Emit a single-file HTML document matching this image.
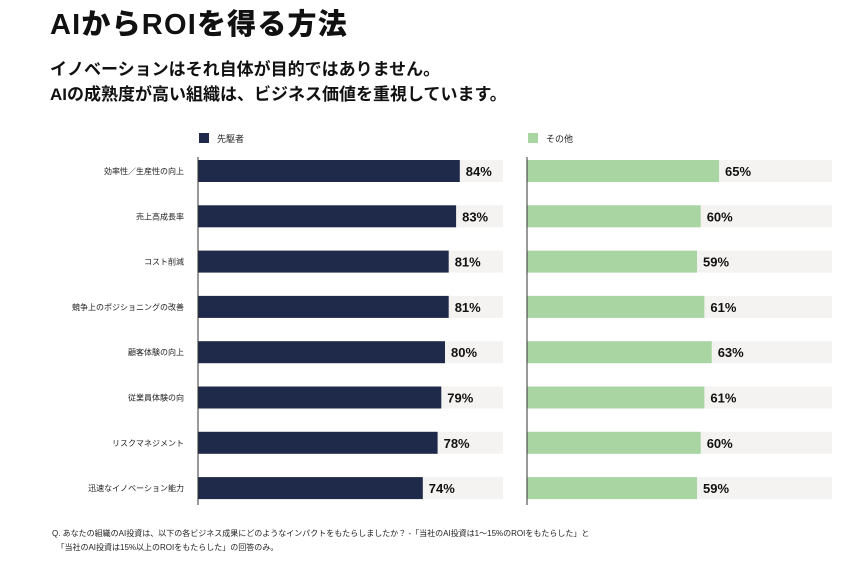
<!DOCTYPE html>
<html><head><meta charset="utf-8"><style>
body{margin:0;width:856px;height:569px;background:#fff;font-family:"Liberation Sans","Noto Sans CJK JP",sans-serif;overflow:hidden;position:relative;color:#111}
.t{position:absolute;white-space:nowrap}
</style></head><body>
<div class="t" style="left:50px;top:1px;font-size:29px;font-weight:900;letter-spacing:1.2px">AIからROIを得る方法</div>
<div class="t" style="left:50px;top:55px;font-size:17px;font-weight:700">イノベーションはそれ自体が目的ではありません。</div>
<div class="t" style="left:50px;top:80px;font-size:17px;font-weight:700">AIの成熟度が高い組織は、ビジネス価値を重視しています。</div>
<svg id="c" width="856" height="569" style="position:absolute;left:0;top:0"></svg>
<div class="t" style="left:52px;top:527px;font-size:8px;line-height:14px;color:#222">Q. あなたの組織のAI投資は、以下の各ビジネス成果にどのようなインパクトをもたらしましたか？ -「当社のAI投資は1〜15%のROIをもたらした」と<br>&nbsp;&nbsp;「当社のAI投資は15%以上のROIをもたらした」の回答のみ。</div>
<script>
const categories=["効率性／生産性の向上","売上高成長率","コスト削減","競争上のポジショニングの改善","顧客体験の向上","従業員体験の向","リスクマネジメント","迅速なイノベーション能力"];
const leaders=[84,83,81,81,80,79,78,74];
const others=[65,60,59,61,63,61,60,59];
const seriesNames=["先駆者","その他"];
const svg=document.getElementById('c');const NS="http://www.w3.org/2000/svg";
function mk(t,a,txt){const e=document.createElementNS(NS,t);for(const k in a)e.setAttribute(k,a[k]);if(txt!=null)e.textContent=txt;svg.appendChild(e);return e;}
function y(i){return 171+i*45.3;}
// scale: end = origin + v*s (axis clipped at x0)
const panels=[{x0:198,org:149,s:3.7,tw:305,col:"#1f2a4a",vals:leaders,lx:199},{x0:527,org:480.5,s:3.67,tw:305,col:"#a8d5a2",vals:others,lx:528}];
panels.forEach((p,pi)=>{
 let r=mk('rect',{x:p.lx,y:133,width:10,height:10,fill:p.col});
 
 let lt=mk('text',{x:p.lx+18,y:142,'font-size':9,fill:'#222'},seriesNames[pi]);
 
 p.vals.forEach((v,i)=>{
  let tr=mk('rect',{x:p.x0,y:y(i)-11,width:p.tw,height:22,fill:'#f4f3f1'});
  
  const end=Math.max(p.x0,p.org+v*p.s);
  let b=mk('rect',{x:p.x0,y:y(i)-11,width:end-p.x0,height:22,fill:p.col});
  
  let t=mk('text',{x:end+6,y:y(i)+5,'font-size':13,'font-weight':700,fill:'#111'},v+'%');
  
 });
 let ax=mk('line',{x1:p.x0,x2:p.x0,y1:157,y2:505,stroke:'#333','stroke-width':1});
 
});
categories.forEach((c,i)=>{
 let t=mk('text',{x:184,y:y(i)+3,'font-size':8,'text-anchor':'end',fill:'#222'},c);
 
});
</script>
</body></html>
